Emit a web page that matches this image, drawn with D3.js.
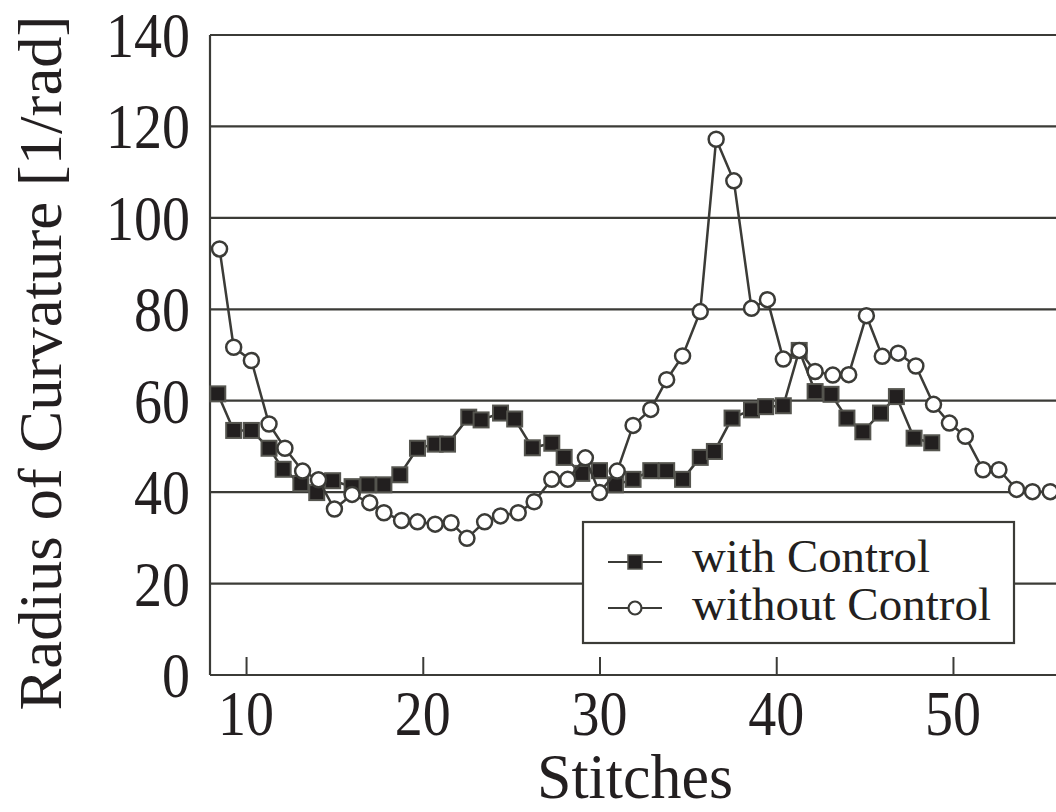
<!DOCTYPE html>
<html>
<head>
<meta charset="utf-8">
<script src="https://cdn.jsdelivr.net/npm/d3@7"></script>
<style>
  html, body { margin: 0; padding: 0; background: #fff; overflow: hidden; }
  svg { display: block; }
</style>
</head>
<body>
<div class="chart"></div>
<script>
// stitch positions and radius values
const withX = [8.4, 9.3, 10.3, 11.3, 12.1, 13.1, 14.0, 14.9, 16.0, 16.9, 17.8, 18.7, 19.7, 20.7, 21.4,
    22.6, 23.3, 24.4, 25.2, 26.2, 27.3, 28.0, 29.0, 30.0, 30.9, 31.9, 32.9, 33.8, 34.7, 35.7,
    36.5, 37.5, 38.6, 39.4, 40.4, 41.3, 42.2, 43.1, 44.0, 44.9, 45.9, 46.8, 47.8, 48.8];
const withY = [61.5, 53.5, 53.5, 49.6, 45.0, 41.9, 39.9, 42.5, 41.2, 41.6, 41.6, 43.8, 49.6, 50.5, 50.5,
    56.4, 55.8, 57.3, 56.0, 49.7, 50.7, 47.6, 44.1, 44.7, 41.6, 42.8, 44.7, 44.7, 42.8, 47.6,
    48.9, 56.2, 58.0, 58.7, 58.9, 71.0, 62.0, 61.4, 56.2, 53.2, 57.3, 60.9, 51.8, 50.8];

const withoutX = [8.5, 9.3, 10.3, 11.3, 12.2, 13.2, 14.1, 15.0, 16.0, 17.0, 17.8, 18.8, 19.7, 20.7, 21.6,
    22.5, 23.5, 24.4, 25.4, 26.3, 27.3, 28.2, 29.2, 30.0, 31.0, 31.9, 32.9, 33.8, 34.7, 35.7,
    36.6, 37.6, 38.6, 39.5, 40.4, 41.3, 42.2, 43.2, 44.1, 45.1, 46.0, 46.9, 47.9, 48.9, 49.8,
    50.7, 51.7, 52.6, 53.6, 54.5, 55.5];
const withoutY = [93.2, 71.7, 68.8, 54.9, 49.6, 44.6, 42.7, 36.3, 39.5, 37.7, 35.5, 33.8, 33.5, 33.0, 33.3,
    29.9, 33.5, 34.8, 35.5, 37.9, 42.8, 42.8, 47.5, 39.9, 44.6, 54.6, 58.1, 64.6, 69.8, 79.5,
    117.2, 108.1, 80.2, 82.1, 69.1, 71.0, 66.4, 65.6, 65.7, 78.6, 69.7, 70.4, 67.6, 59.2, 55.1,
    52.2, 44.9, 44.9, 40.6, 40.1, 40.1];

const xTicks = [10, 20, 30, 40, 50];
const yTicks = [0, 20, 40, 60, 80, 100, 120, 140];
const seriesNames = ["with Control", "without Control"];

const width = 1056, height = 812;
const margin = {top: 35, right: 0, bottom: 137, left: 210};
const ink = "#3b3b37";
const textInk = "#231f20";
const font = "'Liberation Serif', 'Times New Roman', serif";

const svg = d3.select(".chart").append("svg")
    .attr("width", width)
    .attr("height", height);

const x = d3.scaleLinear().domain([7.96, 55.83]).range([margin.left, width - margin.right]);
const y = d3.scaleLinear().domain([0, 140]).range([height - margin.bottom, margin.top]);

// horizontal grid
svg.append("g")
    .selectAll("line")
    .data(yTicks.filter(d => d > 0))
    .join("line")
    .attr("x1", margin.left).attr("x2", width)
    .attr("y1", d => y(d)).attr("y2", d => y(d))
    .attr("stroke", ink).attr("stroke-width", 2.2);

// x axis with inward ticks
const xAxis = svg.append("g")
    .attr("transform", `translate(0,${y(0)})`)
    .call(d3.axisBottom(x).tickValues(xTicks).tickSize(-18).tickFormat(""));
xAxis.select(".domain").attr("stroke", ink).attr("stroke-width", 2.2).attr("d", `M${margin.left},0H${width}`);
xAxis.selectAll(".tick line").attr("stroke", ink).attr("stroke-width", 2);

svg.append("g")
    .selectAll("text")
    .data(xTicks)
    .join("text")
    .attr("x", d => x(d))
    .attr("y", 735)
    .attr("text-anchor", "middle")
    .attr("font-family", font)
    .attr("font-size", 64)
    .attr("fill", textInk)
    .attr("textLength", 56)
    .attr("lengthAdjust", "spacingAndGlyphs")
    .text(d => d);

// y axis line
svg.append("line")
    .attr("x1", margin.left).attr("x2", margin.left)
    .attr("y1", y(140)).attr("y2", y(0))
    .attr("stroke", ink).attr("stroke-width", 2.2);

svg.append("g")
    .selectAll("text")
    .data(yTicks)
    .join("text")
    .attr("x", 190)
    .attr("y", d => y(d) + 22)
    .attr("text-anchor", "end")
    .attr("font-family", font)
    .attr("font-size", 64)
    .attr("fill", textInk)
    .attr("textLength", d => String(d).length * 28)
    .attr("lengthAdjust", "spacingAndGlyphs")
    .text(d => d);

// axis titles
svg.append("text")
    .attr("x", 635).attr("y", 798)
    .attr("text-anchor", "middle")
    .attr("font-family", font).attr("font-size", 63)
    .attr("fill", textInk)
    .attr("textLength", 196).attr("lengthAdjust", "spacingAndGlyphs")
    .text("Stitches");

svg.append("text")
    .attr("transform", "translate(61,363) rotate(-90)")
    .attr("text-anchor", "middle")
    .attr("font-family", font).attr("font-size", 62)
    .attr("fill", textInk)
    .attr("textLength", 695).attr("lengthAdjust", "spacingAndGlyphs")
    .text("Radius of Curvature [1/rad]");

// series
const line = d3.line().x(d => x(d[0])).y(d => y(d[1]));
const withData = withX.map((v, i) => [v, withY[i]]);
const withoutData = withoutX.map((v, i) => [v, withoutY[i]]);

svg.append("path")
    .datum(withData)
    .attr("d", line)
    .attr("fill", "none").attr("stroke", ink).attr("stroke-width", 2.5);

svg.append("g")
    .selectAll("rect")
    .data(withData)
    .join("rect")
    .attr("x", d => x(d[0]) - 7.5)
    .attr("y", d => y(d[1]) - 7.5)
    .attr("width", 15).attr("height", 15)
    .attr("fill", "#221f1f")
    .attr("stroke", "#55554f").attr("stroke-width", 2);

svg.append("path")
    .datum(withoutData)
    .attr("d", line)
    .attr("fill", "none").attr("stroke", ink).attr("stroke-width", 2.5);

svg.append("g")
    .selectAll("circle")
    .data(withoutData)
    .join("circle")
    .attr("cx", d => x(d[0]))
    .attr("cy", d => y(d[1]))
    .attr("r", 7.5)
    .attr("fill", "#fff")
    .attr("stroke", ink).attr("stroke-width", 2.5);

// legend
const legend = svg.append("g");
legend.append("rect")
    .attr("x", 583).attr("y", 522)
    .attr("width", 431).attr("height", 121)
    .attr("fill", "#fff")
    .attr("stroke", ink).attr("stroke-width", 2.2);

const rows = [562, 608];
rows.forEach((ry, i) => {
    legend.append("line")
        .attr("x1", 608).attr("x2", 662)
        .attr("y1", ry).attr("y2", ry)
        .attr("stroke", ink).attr("stroke-width", 2.2);
    if (i === 0) {
        legend.append("rect")
            .attr("x", 628).attr("y", ry - 7)
            .attr("width", 14).attr("height", 14)
            .attr("fill", "#221f1f").attr("stroke", "#55554f").attr("stroke-width", 1.5);
    } else {
        legend.append("circle")
            .attr("cx", 635).attr("cy", ry).attr("r", 6.5)
            .attr("fill", "#fff").attr("stroke", ink).attr("stroke-width", 2.2);
    }
    legend.append("text")
        .attr("x", 692).attr("y", ry + 10 + i * 2)
        .attr("font-family", font).attr("font-size", 47)
        .attr("fill", textInk)
        .attr("textLength", i === 0 ? 238 : 299)
        .attr("lengthAdjust", "spacingAndGlyphs")
        .text(seriesNames[i]);
});
</script>
</body>
</html>
